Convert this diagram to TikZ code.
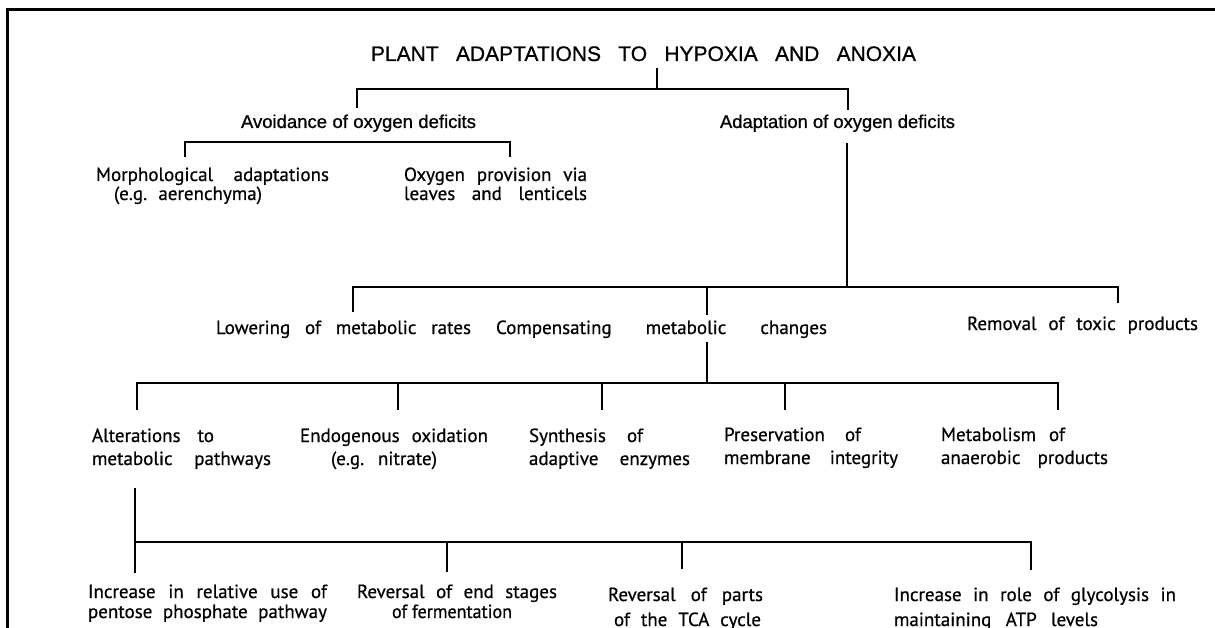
\documentclass[tikz,border=0pt]{standalone}
\usepackage{graphicx}
\usepackage{fontspec}
\setmainfont{Liberation Sans}
\newfontfamily\ttlfont[FakeBold=0.8]{Liberation Sans}
\newfontfamily\humfont[FakeBold=0.6]{PT Sans}
\newlength\fitnat
\newcommand{\fitln}[3]{\hbox{\kern#1pt\settowidth\fitnat{#3}%
  \ifdim\fitnat>#2pt\relax\resizebox{#2pt}{\height}{#3}\else\makebox[#2pt][s]{#3}\fi}}
\tikzset{
  lbl/.style={inner sep=0pt, outer sep=0pt, anchor=base west},
  ttl/.style={lbl, font=\ttlfont\fontsize{21}{24}\selectfont},
  lvl/.style={lbl, font=\ttlfont\fontsize{18.5}{22}\selectfont},
  hum/.style={lbl, font=\humfont\fontsize{19}{22}\selectfont},
  conn/.style={line width=1.6pt, black},
  frame/.style={line width=2.6pt, black}
}
\begin{document}
\begin{tikzpicture}[x=1pt,y=-1pt]
\useasboundingbox (0,0) rectangle (1215,628);
\clip (0,0) rectangle (1215,628);
\fill[white] (0,0) rectangle (1215,628);
\draw[frame] (7.5,640) -- (7.5,9.5) -- (1220,9.5);

% nodes
\node[ttl] (title) at (371,61) {\fitln{0}{545}{PLANT ADAPTATIONS TO HYPOXIA AND ANOXIA}};
\node[lvl] (avoid) at (241,128) {\fitln{0}{235}{Avoidance of oxygen deficits}};
\node[lvl] (adapt) at (720,128) {\fitln{0}{235}{Adaptation of oxygen deficits}};
\node[hum] (morph) at (96,181) {\vtop{\baselineskip=19pt\fitln{0}{233}{Morphological adaptations}\fitln{18}{148}{(e.g. aerenchyma)}}};
\node[hum] (oxy) at (404,181) {\vtop{\baselineskip=19pt\fitln{0}{183}{Oxygen provision via}\fitln{0}{183}{leaves and lenticels}}};
\node[hum] (lower) at (216,334) {\fitln{0}{255}{Lowering of metabolic rates}};
\node[hum] (comp) at (496,334) {\fitln{0}{331}{Compensating metabolic changes}};
\node[hum] (remove) at (967,330) {\fitln{0}{231}{Removal of toxic products}};
\node[hum] (alter) at (92,442) {\vtop{\baselineskip=23pt\fitln{0}{122}{Alterations to}\fitln{0}{179}{metabolic pathways}}};
\node[hum] (endo) at (300,442) {\vtop{\baselineskip=23pt\fitln{0}{188}{Endogenous oxidation}\fitln{31}{106}{(e.g. nitrate)}}};
\node[hum] (synth) at (529,442) {\vtop{\baselineskip=23pt\fitln{0}{114}{Synthesis of}\fitln{0}{161}{adaptive enzymes}}};
\node[hum] (pres) at (724,441) {\vtop{\baselineskip=23pt\fitln{0}{137}{Preservation of}\fitln{0}{174}{membrane integrity}}};
\node[hum] (metab) at (941,441) {\vtop{\baselineskip=23pt\fitln{0}{124}{Metabolism of}\fitln{0}{167}{anaerobic products}}};
\node[hum] (pent) at (88,598) {\vtop{\baselineskip=20pt\fitln{0}{239}{Increase in relative use of}\fitln{0}{239}{pentose phosphate pathway}}};
\node[hum] (ferm) at (357,598) {\vtop{\baselineskip=20pt\fitln{0}{200}{Reversal of end stages}\fitln{35}{120}{of fermentation}}};
\node[hum] (tca) at (608,601) {\vtop{\baselineskip=25pt\fitln{0}{155}{Reversal of parts}\fitln{6}{147}{of the TCA cycle}}};
\node[hum] (glyc) at (894,601) {\vtop{\baselineskip=25pt\fitln{0}{282}{Increase in role of glycolysis in}\fitln{0}{204}{maintaining ATP levels}}};

% joints
\coordinate (t0) at (657,68);
\coordinate (t1) at (657,89);
\coordinate (a0) at (357,108);
\coordinate (d0) at (848,110);
\coordinate (v0) at (185,157);
\coordinate (v1) at (510,157);
\coordinate (p0) at (847,143);
\coordinate (p1) at (847,287);
\coordinate (l0) at (353,312);
\coordinate (c0) at (707,315);
\coordinate (r0) at (1118,303);
\coordinate (c1) at (707,342);
\coordinate (c2) at (707,383);
\coordinate (m0) at (137,410);
\coordinate (m1) at (398,410);
\coordinate (m2) at (602,410);
\coordinate (m3) at (785,410);
\coordinate (m4) at (1058,410);
\coordinate (s0) at (135,488);
\coordinate (s1) at (135,542);
\coordinate (b0) at (135,573);
\coordinate (b1) at (447,572);
\coordinate (b2) at (682,569);
\coordinate (b3) at (1031,570);

% connectors
\draw[conn] (t0) -- (t1);
\draw[conn] (a0) |- (t1) -| (d0);
\draw[conn] (v0) |- (v1 |- 0,142) -- (v1);
\draw[conn] (p0) -- (p1);
\draw[conn] (l0) |- (p1);
\draw[conn] (p1) -| (r0);
\draw[conn] (c0) -- (c0 |- p1);
\draw[conn] (c1) -- (c2);
\draw[conn] (m0) |- (c2) -| (m4);
\draw[conn] (m1) -- (m1 |- c2);
\draw[conn] (m2) -- (m2 |- c2);
\draw[conn] (m3) -- (m3 |- c2);
\draw[conn] (s0) -- (b0);
\draw[conn] (s1) -| (b3);
\draw[conn] (b1) -- (b1 |- s1);
\draw[conn] (b2) -- (b2 |- s1);
\end{tikzpicture}
\end{document}
